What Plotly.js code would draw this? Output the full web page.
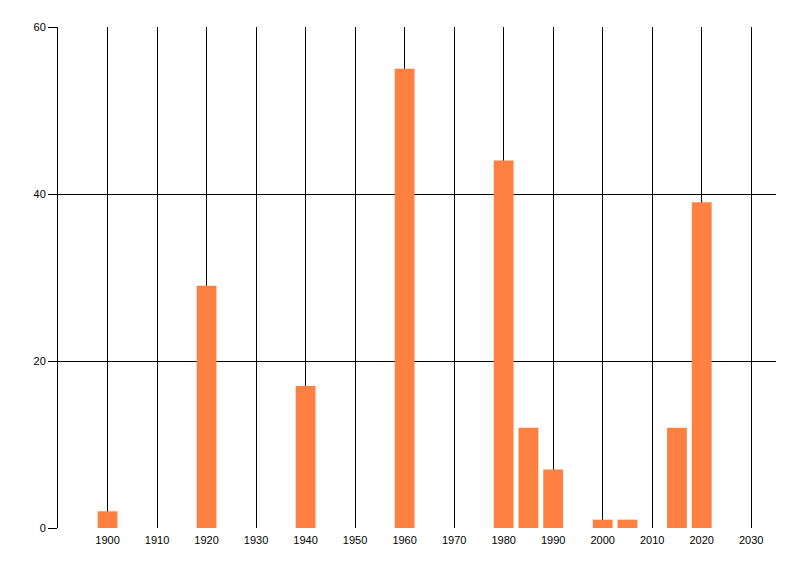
<!DOCTYPE html>
<html>
<head>
<meta charset="utf-8">
<script src="https://cdn.plot.ly/plotly-3.0.1.min.js"></script>
<style>
  html, body { margin: 0; padding: 0; background: #fff; }
  #chart { width: 800px; height: 576px; }
</style>
</head>
<body>
<div id="chart"></div>
<script>
// data
const anos = [1900, 1920, 1940, 1960, 1980, 1985, 1990, 2000, 2005, 2015, 2020];
const valores = [2, 29, 17, 55, 44, 12, 7, 1, 1, 12, 39];
const ticksX = [1900, 1910, 1920, 1930, 1940, 1950, 1960, 1970, 1980, 1990, 2000, 2010, 2020, 2030];
const ticksY = [0, 20, 40, 60];

const barras = {
  x: anos,
  y: valores,
  type: 'bar',
  width: 4,
  marker: {color: 'rgb(255, 128, 64)', line: {width: 0}},
  hoverinfo: 'x+y'
};

const layout = {
  width: 800,
  height: 576,
  margin: {l: 58, r: 24, t: 27, b: 48},
  paper_bgcolor: '#fff',
  plot_bgcolor: '#fff',
  showlegend: false,
  font: {family: 'Liberation Sans, Arial, sans-serif', size: 11, color: '#000'},
  xaxis: {
    range: [1890, 2035],
    tickvals: ticksX,
    ticktext: ticksX.map(String),
    showgrid: true,
    gridcolor: '#000',
    gridwidth: 1,
    zeroline: false,
    showline: false,
    ticks: '',
    ticklabelstandoff: 4,
    fixedrange: true
  },
  yaxis: {
    range: [0, 60],
    tickvals: ticksY,
    showgrid: true,
    gridcolor: '#000',
    gridwidth: 1,
    zeroline: false,
    showline: true,
    linecolor: '#000',
    linewidth: 1,
    ticks: 'outside',
    ticklen: 9,
    tickcolor: '#000',
    fixedrange: true
  }
};

Plotly.newPlot('chart', [barras], layout, {displayModeBar: false, staticPlot: true});
</script>
</body>
</html>
